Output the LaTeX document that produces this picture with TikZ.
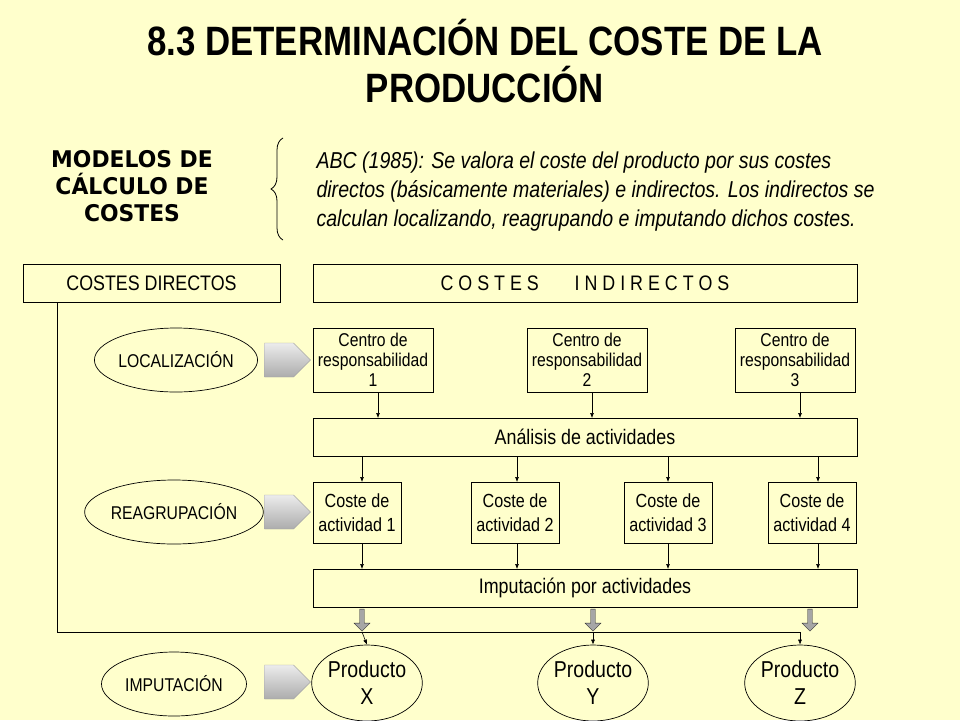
\documentclass[tikz,border=0pt]{standalone}
\usepackage{fontspec}
\setmainfont{Liberation Sans}[FakeStretch=0.85]
\newfontfamily\verd{DejaVu Sans}[FakeStretch=0.95]
\usetikzlibrary{shapes.arrows,shapes.geometric,decorations.pathreplacing,arrows.meta}
\definecolor{bg}{HTML}{FFFFCC}
\begin{document}
\begin{tikzpicture}[x=1pt,y=-1pt,
  bx/.style={draw,line width=0.8pt,fill=bg,inner sep=0pt},
  el/.style={draw,ellipse,line width=0.7pt,inner sep=0pt},
  ar/.style={-{Latex[length=5pt,width=4pt]},line width=0.6pt},
  garrow/.style={single arrow,minimum height=46pt,minimum width=34pt,single arrow head extend=0pt,inner sep=0pt,draw=gray!70,top color=gray!15,bottom color=gray!65,shading angle=0},
  thick arr/.style={single arrow,shape border rotate=270,minimum height=22pt,minimum width=16pt,single arrow head extend=3pt,inner sep=1pt,draw=gray!40!black,fill=gray!70}]
\useasboundingbox[fill=bg] (0,0) rectangle (960,720);
\node[font=\bfseries\fontsize{41}{45}\selectfont] (t1) at (485,38) {8.3 DETERMINACIÓN DEL COSTE DE LA};
\node[font=\bfseries\fontsize{41}{45}\selectfont] (t2) at (485,85) {PRODUCCIÓN};
\node[align=center,font=\verd\bfseries\fontsize{23}{27}\selectfont] (mod) at (132,186) {MODELOS DE\\CÁLCULO DE\\COSTES};
\coordinate (b1) at (283,138); \coordinate (b2) at (283,240);
\draw[decorate,decoration={brace,amplitude=12pt},line width=0.8pt] (b2) -- (b1);
\node[anchor=west,align=left,font=\itshape\fontsize{23}{29}\selectfont] (abc) at (313,192) {ABC (1985): Se valora el coste del producto por sus costes\\directos (básicamente materiales) e indirectos. Los indirectos se\\calculan localizando, reagrupando e imputando dichos costes.};
\node[bx,minimum width=257pt,minimum height=38pt,font=\fontsize{21}{24}\selectfont] (cd) at (151.5,283) {COSTES DIRECTOS};
\node[bx,minimum width=544pt,minimum height=38pt,font=\fontsize{21}{24}\selectfont] (ci) at (585,283) {C O S T E S \quad\ \ I N D I R E C T O S};
\foreach \n/\x/\k in {c1/373/1,c2/587/2,c3/795/3}
  \node[bx,minimum width=120pt,minimum height=64pt,align=center,font=\fontsize{18.5}{20}\selectfont] (\n) at (\x,360) {Centro de\\responsabilidad\\\k};
\node[bx,minimum width=544pt,minimum height=38pt,font=\fontsize{21}{24}\selectfont] (an) at (585,437) {Análisis de actividades};
\foreach \n/\x/\k in {a1/357/1,a2/515/2,a3/668/3,a4/812/4}
  \node[bx,minimum width=88pt,minimum height=61pt,align=center,font=\fontsize{19}{24}\selectfont] (\n) at (\x,512.5) {Coste de\\actividad \k};
\node[bx,minimum width=544pt,minimum height=38pt,font=\fontsize{21}{24}\selectfont] (im) at (585,588) {Imputación por actividades};
\node[el,minimum width=140pt,minimum height=64pt,font=\fontsize{18.5}{20}\selectfont] (loc) at (176,360) {LOCALIZACIÓN};
\node[el,minimum width=140pt,minimum height=64pt,font=\fontsize{18.5}{20}\selectfont] (rea) at (174,512) {REAGRUPACIÓN};
\node[el,minimum width=145pt,minimum height=64pt,font=\fontsize{18.5}{20}\selectfont] (imp) at (174,684) {IMPUTACIÓN};
\foreach \n/\y in {g1/360,g2/512,g3/682} \node[garrow] (\n) at (279,\y) {};
\foreach \n/\x/\t in {px/367/X,py/593/Y,pz/800/Z}
  \node[el,minimum width=110pt,minimum height=76pt,align=center,font=\fontsize{23}{27}\selectfont] (\n) at (\x,683) {Producto\\\t};
\foreach \x in {378,592,800} \draw[ar] (\x,392) -- (\x,418);
\foreach \x in {362,517,668,818} { \draw[ar] (\x,456) -- (\x,482); \draw[ar] (\x,543) -- (\x,569); }
\foreach \n/\x in {k1/362,k2/593,k3/810} \node[thick arr] (\n) at (\x,619) {};
\coordinate (d1) at (57,302); \coordinate (d2) at (57,632); \coordinate (d3) at (800,632);
\draw[line width=0.8pt] (d1) -- (d2) -- (d3);
\draw[ar] (362,632) -- (px.north);
\draw[ar] (593,632) -- (py.north);
\draw[ar] (800,632) -- (pz.north);
\end{tikzpicture}
\end{document}
